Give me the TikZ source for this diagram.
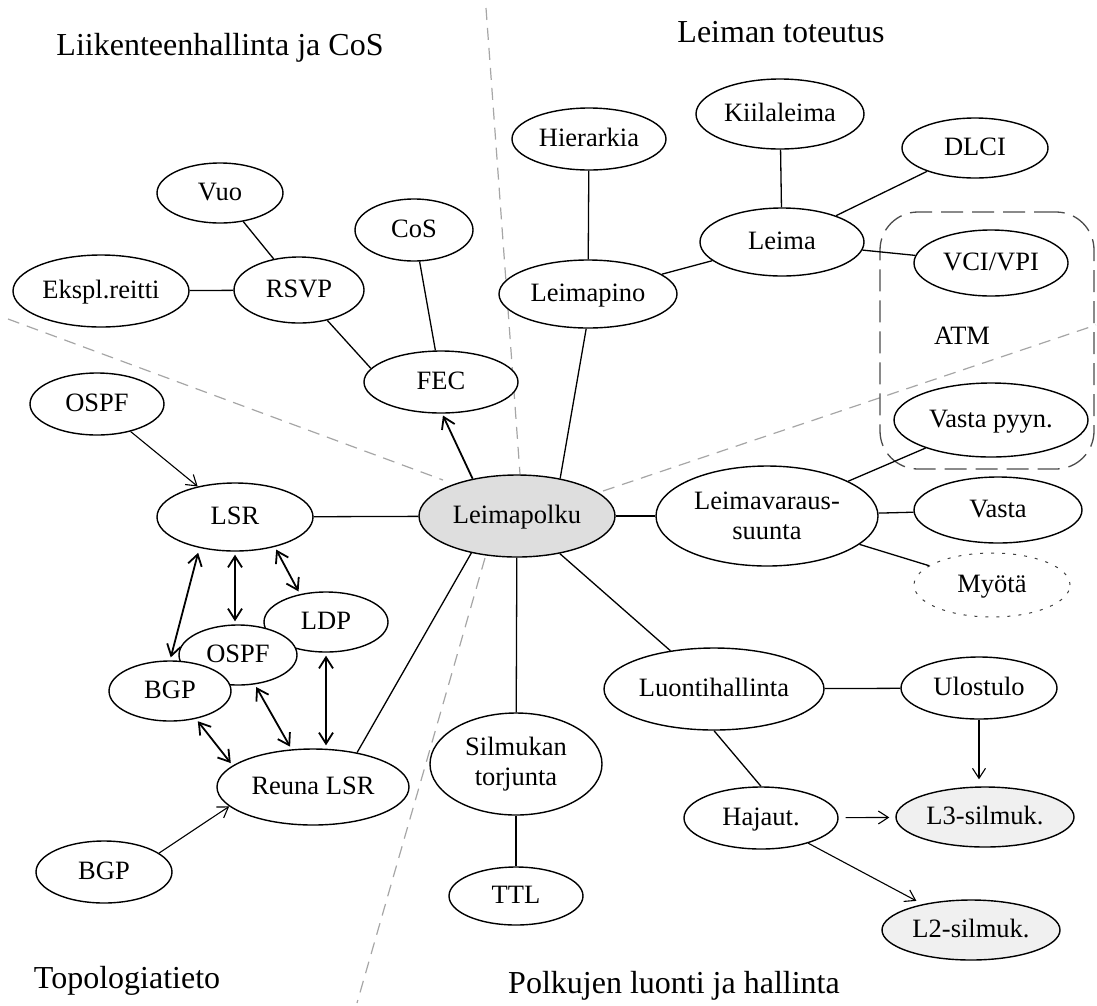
\documentclass[tikz,border=0pt]{standalone}
\usepackage{fontspec}
\setmainfont{Liberation Serif}
\usetikzlibrary{shapes.geometric,arrows.meta}
\begin{document}
\begin{tikzpicture}[x=1pt,y=-1pt,
  oval/.style={ellipse, draw, line width=1.4pt, fill=white, inner sep=0pt,
    font=\fontsize{26.5}{29.5}\selectfont, text height=19.9pt, text depth=5.8pt},
  oval2/.style={ellipse, draw, line width=1.4pt, fill=white, inner sep=0pt,
    font=\fontsize{26.5}{29.5}\selectfont, align=center},
  sz/.style 2 args={minimum width=2*#1, minimum height=2*#2},
  shaded/.style={fill=black!13},
  pale/.style={fill=black!6},
  dotty/.style={draw=black!75, line width=1pt, dash pattern=on 3pt off 8pt},
  title/.style={anchor=base, font=\fontsize{32}{36}\selectfont},
  label/.style={anchor=base, font=\fontsize{26.5}{29.5}\selectfont},
  link/.style={line width=1.3pt},
  dbl/.style={line width=1.8pt, shorten <=3pt, shorten >=3pt,
    {Straight Barb[length=11pt,width=14pt]}-{Straight Barb[length=11pt,width=14pt]}},
  onearrow/.style={line width=1.1pt, -{Straight Barb[length=10pt,width=13pt]}},
  bigarrow/.style={line width=1.8pt, -{Straight Barb[length=11pt,width=14pt]}},
  divider/.style={draw=black!35, line width=1.2pt, dash pattern=on 12pt off 8pt},
  atmframe/.style={draw=black!70, line width=1.3pt, dash pattern=on 22pt off 9pt,
    rounded corners=38pt, inner sep=0pt},
]
\useasboundingbox (0,0) rectangle (1097,1005);

% sector dividers
\coordinate (dUa) at (486,8);    \coordinate (dUb) at (520,474);
\coordinate (dLa) at (8,319);    \coordinate (dLb) at (443,480);
\coordinate (dDa) at (485,558);  \coordinate (dDb) at (357,1003);
\coordinate (dRa) at (603,491);  \coordinate (dRb) at (1096,325);
\draw[divider] (dUa) -- (dUb);
\draw[divider] (dLa) -- (dLb);
\draw[divider] (dDa) -- (dDb);
\draw[divider] (dRa) -- (dRb);

% ATM frame
\node[atmframe, minimum width=214, minimum height=257] (atmbox) at (987,340.5) {};
\node[label] (atm) at (962,344) {ATM};

% sector titles
\node[title] (t1) at (220,55) {Liikenteenhallinta ja CoS};
\node[title] (t2) at (781,42) {Leiman toteutus};
\node[title] (t3) at (127,988) {Topologiatieto};
\node[title] (t4) at (674,993) {Polkujen luonti ja hallinta};

% traffic engineering
\node[oval, sz={63}{30}] (vuo) at (220,193) {Vuo};
\node[oval, sz={88}{36}] (ekspl) at (101,291) {Ekspl.reitti};
\node[oval, sz={65}{33}] (rsvp) at (299,290) {RSVP};
\node[oval, sz={59}{31}] (cos) at (414,230) {CoS};
\node[oval, sz={77}{31}] (fec) at (441,382) {FEC};

% label implementation
\node[oval, sz={77}{31}] (hier) at (589,139) {Hierarkia};
\node[oval, sz={84}{35}] (kiila) at (780,114) {Kiilaleima};
\node[oval, sz={73}{30}] (dlci) at (975,148) {DLCI};
\node[oval, sz={82}{34}] (leima) at (782,242) {Leima};
\node[oval, sz={77}{33}] (vci) at (991,263) {VCI/VPI};
\node[oval, sz={89}{34}] (pino) at (588,294) {Leimapino};

% centre and allocation direction
\node[oval, shaded, sz={98}{41}] (polku) at (517,516) {Leimapolku};
\node[oval2, sz={111}{50}] (suunta) at (767,516) {Leimavaraus-\\suunta};
\node[oval, sz={97}{37}] (pyyn) at (991,420) {Vasta pyyn.};
\node[oval, sz={84}{33}] (vasta) at (998,510) {Vasta};
\node[oval, dotty, sz={78}{32}] (myota) at (992,585) {Myötä};

% topology
\node[oval, sz={67}{31}] (ospfA) at (97,404) {OSPF};
\node[oval, sz={78}{34}] (lsr) at (235,517) {LSR};
\node[oval, sz={62}{30}] (ldp) at (326,622) {LDP};
\node[oval, sz={59}{30}] (ospfB) at (238,655) {OSPF};
\node[oval, sz={61}{30}] (bgpA) at (170,691) {BGP};
\node[oval, sz={96}{38}] (reuna) at (313,787) {Reuna LSR};
\node[oval, sz={68}{31}] (bgpB) at (104,872) {BGP};

% path setup and control
\node[oval2, sz={86}{51}] (silm) at (516,764) {Silmukan\\torjunta};
\node[oval, sz={67}{29}] (ttl) at (516,896) {TTL};
\node[oval, sz={110}{41}] (luonti) at (714,689) {Luontihallinta};
\node[oval, sz={78}{31}] (ulos) at (979,688) {Ulostulo};
\node[oval, sz={77}{31}] (hajaut) at (761,818) {Hajaut.};
\node[oval, pale, sz={89}{30}] (l3) at (985,817) {L3-silmuk.};
\node[oval, pale, sz={89}{30}] (l2) at (971,930) {L2-silmuk.};

% connectors: traffic engineering
\draw[link] (vuo) -- (rsvp);
\draw[link] (ekspl) -- (rsvp);
\draw[link] (rsvp.-47) -- (fec.169);
\draw[link] (cos) -- (fec);
\draw[bigarrow, shorten >=2pt] (polku.140) -- (fec.-88);

% connectors: label implementation
\draw[link] (hier) -- (pino);
\draw[link] (pino.-93) -- (polku.41);
\draw[link] (pino) -- (leima);
\draw[link] (kiila) -- (leima);
\draw[link] (leima) -- (dlci);
\draw[link] (leima) -- (vci);

% connectors: allocation direction
\draw[link] (polku) -- (suunta);
\draw[link] (suunta) -- (pyyn);
\draw[link] (suunta) -- (vasta);
\draw[link] (suunta) -- (myota);

% connectors: path control
\draw[link] (polku) -- (luonti);
\draw[link] (luonti) -- (ulos);
\draw[link] (luonti.south) -- (hajaut.north);
\draw[onearrow, shorten >=7pt] (ulos.south) -- (ulos.south |- l3.north);
\draw[onearrow, shorten <=7pt, shorten >=6pt] (hajaut) -- (l3);
\draw[onearrow, shorten >=7pt] (hajaut) -- (l2);
\draw[link] (polku) -- (silm);
\draw[link] (silm) -- (ttl);

% connectors: topology
\draw[link] (lsr) -- (polku);
\draw[onearrow] (ospfA) -- (lsr);
\draw[dbl, shorten <=5pt] (lsr.-139) -- (bgpA.north);
\draw[dbl] (lsr.south) -- (lsr.south |- ospfB.north);
\draw[dbl] (lsr.-37) -- (ldp.133);
\draw[dbl] (ldp.south) -- (ldp.south |- reuna.north);
\draw[dbl] (ospfB) -- (reuna);
\draw[dbl] (bgpA.-47) -- (reuna.165);
\draw[onearrow] (bgpB.19) -- (reuna.-167);
\draw[link] (reuna.38) -- (polku.-141);
\end{tikzpicture}
\end{document}
